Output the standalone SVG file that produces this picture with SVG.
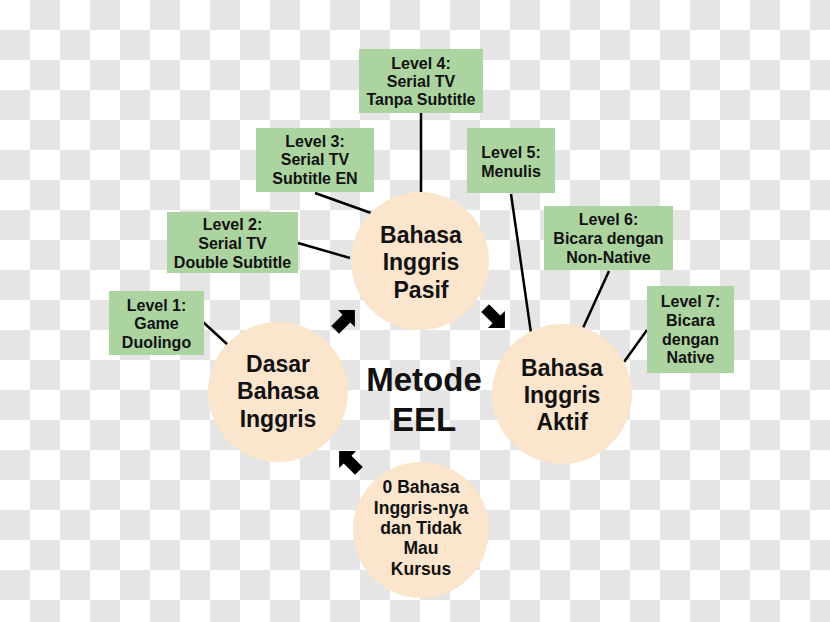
<svg xmlns="http://www.w3.org/2000/svg" xmlns:xlink="http://www.w3.org/1999/xlink" width="830" height="622" viewBox="0 0 830 622">
<defs>
<pattern id="chk" x="0" y="0" width="60" height="60" patternUnits="userSpaceOnUse">
<rect width="60" height="60" fill="#ffffff"/>
<rect x="30" y="0" width="30" height="30" fill="#e5e5e5"/>
<rect x="0" y="30" width="30" height="30" fill="#e5e5e5"/>
</pattern>
<path id="arr" d="M-14,-5.5 L2,-5.5 L2,-12 L14,0 L2,12 L2,5.5 L-14,5.5 Z" fill="#000"/>
<style>
.box{fill:#acd4a0;}
.circ{fill:#fce5cd;}
.lt{font-family:"Liberation Sans",Arial,sans-serif;font-weight:bold;font-size:16px;fill:#111;text-anchor:middle;}
.ct{font-family:"Liberation Sans",Arial,sans-serif;font-weight:bold;font-size:23px;fill:#111;text-anchor:middle;}
.st{font-family:"Liberation Sans",Arial,sans-serif;font-weight:bold;font-size:17.5px;fill:#111;text-anchor:middle;}
.mt{font-family:"Liberation Sans",Arial,sans-serif;font-weight:bold;font-size:33px;fill:#111;text-anchor:middle;}
.ln{stroke:#000;stroke-width:2.5;fill:none;}
</style>
</defs>
<rect width="830" height="622" fill="url(#chk)"/>

<g id="connectors">
<line class="ln" x1="203" y1="322" x2="228" y2="345"/>
<line class="ln" x1="298" y1="243" x2="350" y2="258"/>
<line class="ln" x1="315" y1="193" x2="371" y2="213"/>
<line class="ln" x1="421" y1="113" x2="421" y2="193"/>
<line class="ln" x1="511" y1="194" x2="531" y2="333"/>
<line class="ln" x1="609" y1="271" x2="583" y2="328"/>
<line class="ln" x1="647" y1="330" x2="624" y2="362"/>
<use xlink:href="#arr" transform="translate(345,320) rotate(-45)"/>
<use xlink:href="#arr" transform="translate(495,318) rotate(45)"/>
<use xlink:href="#arr" transform="translate(349,461) rotate(-135)"/>
</g>

<g id="dasar">
<circle class="circ" cx="278" cy="392" r="70"/>
<text class="ct" x="278" y="372">Dasar</text>
<text class="ct" x="278" y="399">Bahasa</text>
<text class="ct" x="278" y="427">Inggris</text>
</g>

<g id="pasif">
<circle class="circ" cx="420" cy="261" r="69"/>
<text class="ct" x="421" y="243">Bahasa</text>
<text class="ct" x="421" y="270">Inggris</text>
<text class="ct" x="421" y="298">Pasif</text>
</g>

<g id="aktif">
<circle class="circ" cx="562" cy="394" r="70"/>
<text class="ct" x="562" y="376">Bahasa</text>
<text class="ct" x="562" y="403">Inggris</text>
<text class="ct" x="562" y="430">Aktif</text>
</g>

<g id="nol">
<circle class="circ" cx="421" cy="530" r="68"/>
<text class="st" x="421" y="493">0 Bahasa</text>
<text class="st" x="421" y="514">Inggris-nya</text>
<text class="st" x="421" y="534">dan Tidak</text>
<text class="st" x="421" y="554">Mau</text>
<text class="st" x="421" y="575">Kursus</text>
</g>

<g id="metode">
<text class="mt" x="424" y="391">Metode</text>
<text class="mt" x="424" y="431">EEL</text>
</g>

<g id="level1">
<rect class="box" x="109" y="291" width="95" height="64"/>
<text class="lt" x="156.5" y="310.5">Level 1:</text>
<text class="lt" x="156.5" y="328.5">Game</text>
<text class="lt" x="156.5" y="347.5">Duolingo</text>
</g>

<g id="level2">
<rect class="box" x="167" y="212" width="131" height="61"/>
<text class="lt" x="232.5" y="229.5">Level 2:</text>
<text class="lt" x="232.5" y="248.5">Serial TV</text>
<text class="lt" x="232.5" y="267.5">Double Subtitle</text>
</g>

<g id="level3">
<rect class="box" x="256" y="128" width="118" height="64"/>
<text class="lt" x="315" y="146.5">Level 3:</text>
<text class="lt" x="315" y="164.5">Serial TV</text>
<text class="lt" x="315" y="183.5">Subtitle EN</text>
</g>

<g id="level4">
<rect class="box" x="359" y="49" width="124" height="64"/>
<text class="lt" x="421" y="68.5">Level 4:</text>
<text class="lt" x="421" y="86.5">Serial TV</text>
<text class="lt" x="421" y="104.5">Tanpa Subtitle</text>
</g>

<g id="level5">
<rect class="box" x="467" y="128" width="88" height="65"/>
<text class="lt" x="511" y="157.5">Level 5:</text>
<text class="lt" x="511" y="176.5">Menulis</text>
</g>

<g id="level6">
<rect class="box" x="544" y="206" width="129" height="64"/>
<text class="lt" x="608.5" y="224.5">Level 6:</text>
<text class="lt" x="608.5" y="243.5">Bicara dengan</text>
<text class="lt" x="608.5" y="262.5">Non-Native</text>
</g>

<g id="level7">
<rect class="box" x="647" y="286" width="87" height="87"/>
<text class="lt" x="690.5" y="306.5">Level 7:</text>
<text class="lt" x="690.5" y="325.5">Bicara</text>
<text class="lt" x="690.5" y="344.5">dengan</text>
<text class="lt" x="690.5" y="362.5">Native</text>
</g>
</svg>
